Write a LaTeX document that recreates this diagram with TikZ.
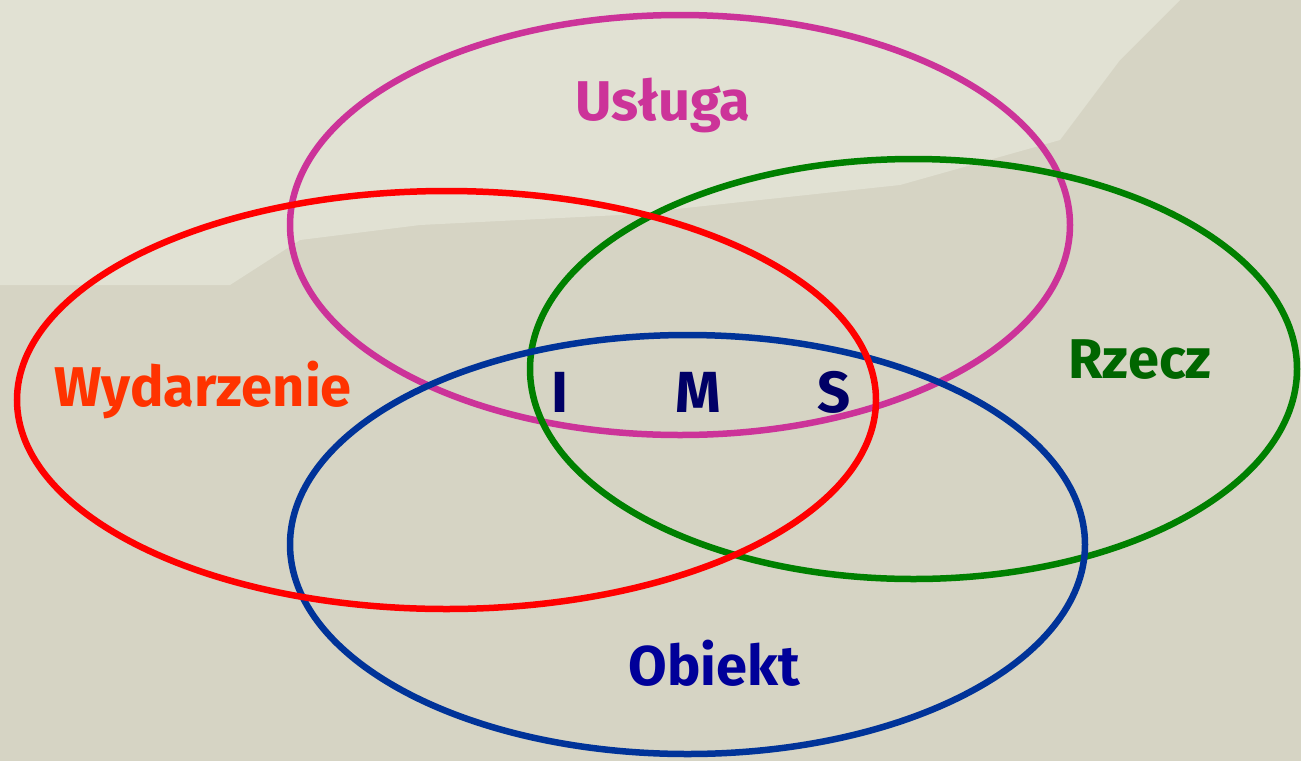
\documentclass[tikz,border=0pt]{standalone}
\usepackage{fontspec}
\setmainfont{Fira Sans}
\definecolor{bgbase}{HTML}{D6D4C4}
\definecolor{bglight}{HTML}{E1E1D3}
\definecolor{cmag}{HTML}{CC3399}
\definecolor{cred}{HTML}{FF0000}
\definecolor{cgreen}{HTML}{008000}
\definecolor{cblue}{HTML}{003399}
\definecolor{twyd}{HTML}{FF3300}
\definecolor{trze}{HTML}{006600}
\definecolor{tobi}{HTML}{000099}
\definecolor{tims}{HTML}{000066}
\begin{document}
\begin{tikzpicture}[x=1pt,y=-1pt,
  ring/.style={line width=6.5pt},
  lbl/.style={font=\bfseries\fontsize{56}{60}\selectfont, inner sep=0pt},
  letter/.style={font=\bfseries\fontsize{58}{62}\selectfont, text=tims, inner sep=0pt}]
\fill[bgbase] (0,0) rectangle (1301,761);
\useasboundingbox (0,0) rectangle (1301,761);
\fill[bglight] (0,0) -- (1180,0) -- (1120,60) -- (1060,140) -- (900,185) -- (620,215) -- (420,225) -- (300,240) -- (230,285) -- (0,285) -- cycle;
\coordinate (cu) at (680,225);
\coordinate (cw) at (446.5,400);
\coordinate (cr) at (913.5,369);
\coordinate (co) at (687.5,544.5);
\draw[ring, cmag] (cu) ellipse [x radius=390, y radius=210];
\draw[ring, cgreen] (cr) ellipse [x radius=383.5, y radius=210];
\draw[ring, cblue] (co) ellipse [x radius=397.5, y radius=209.5];
\draw[ring, cred] (cw) ellipse [x radius=429.5, y radius=209];
\node[lbl, text=cmag] (usluga) at (663,105) {Usługa};
\node[lbl, text=twyd] (wyd) at (203,390) {Wydarzenie};
\node[lbl, text=trze] (rzecz) at (1140,360) {Rzecz};
\node[lbl, text=tobi] (obiekt) at (714,663) {Obiekt};
\node[letter] (li) at (560,392) {I};
\node[letter] (lm) at (698,392) {M};
\node[letter] (ls) at (834,392) {S};
\end{tikzpicture}
\end{document}
